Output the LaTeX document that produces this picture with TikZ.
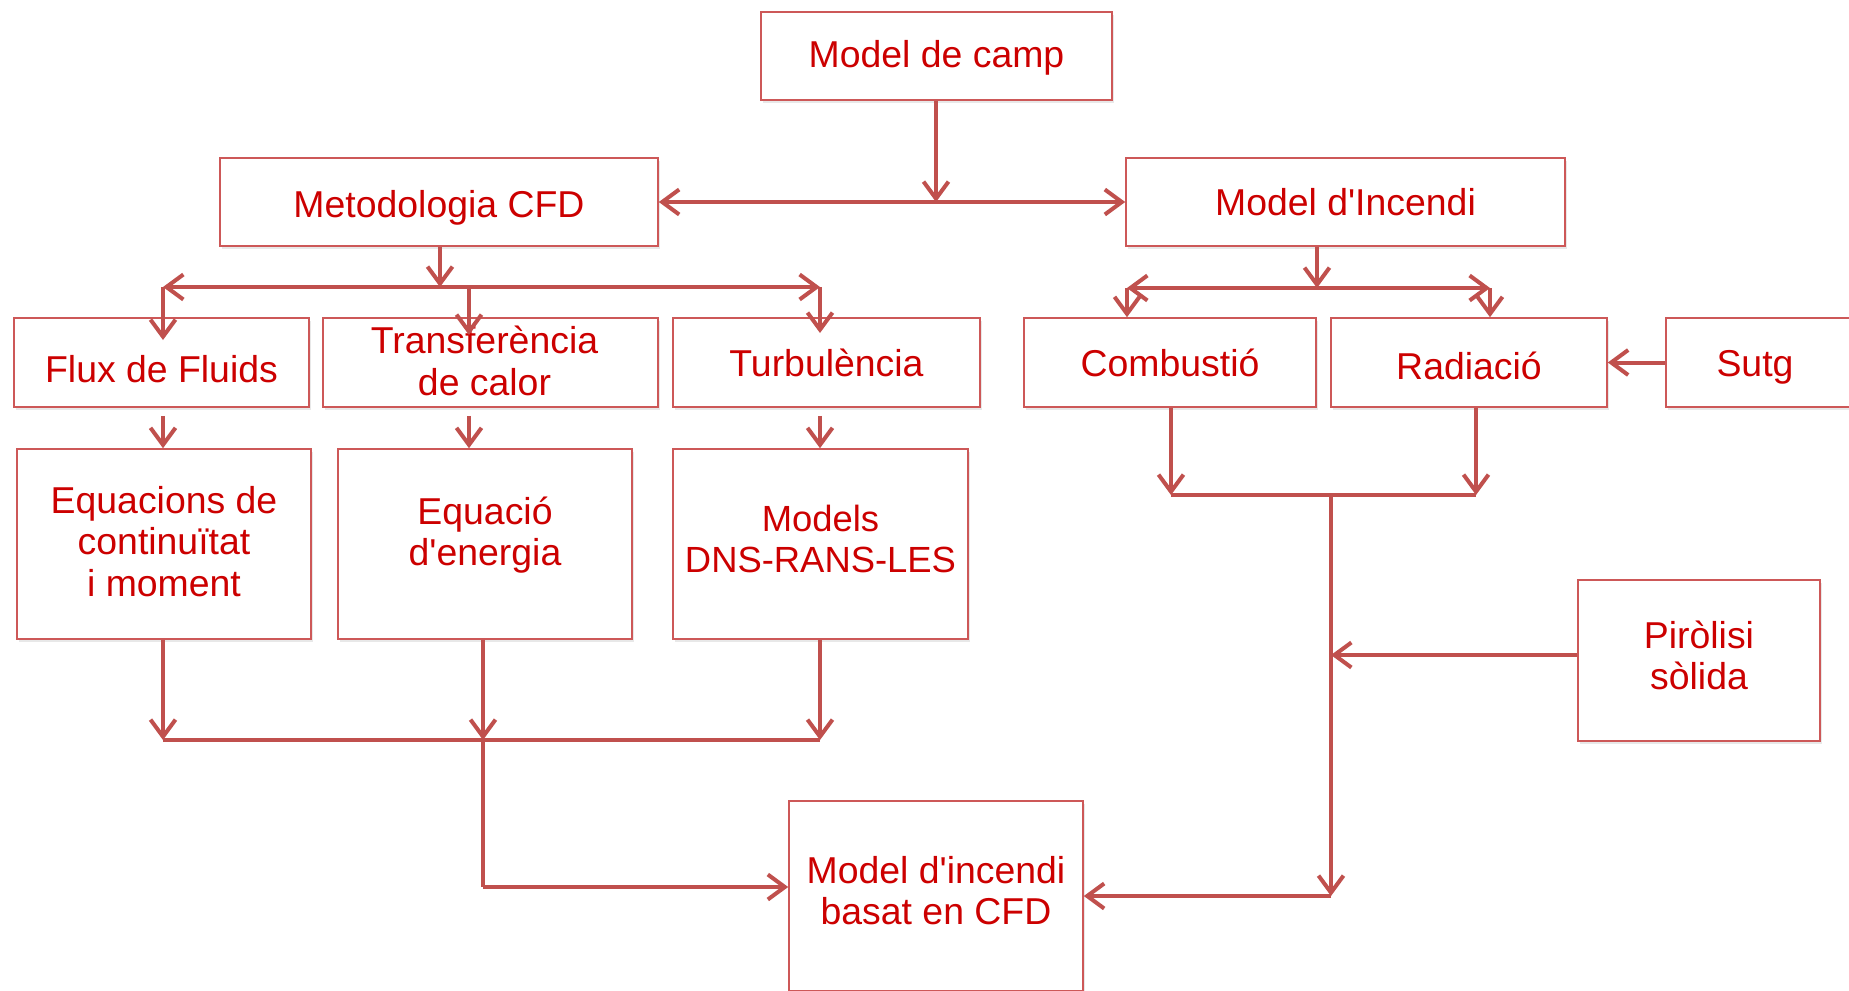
\documentclass[tikz,border=0pt]{standalone}
\usepackage{fontspec}
\setmainfont{Liberation Sans}
\usetikzlibrary{arrows.meta,shadows}
\definecolor{boxc}{RGB}{205,88,88}
\definecolor{arrc}{RGB}{192,80,77}
\definecolor{txt}{RGB}{204,0,0}
\newcommand{\apo}{\textquotesingle}
\tikzset{
  box/.style={draw=boxc, line width=0.8pt, fill=white, text=txt, align=center, inner sep=0pt,
    font=\fontsize{18.7pt}{20.6pt}\selectfont,
    drop shadow={opacity=0.18, shadow xshift=1.2pt, shadow yshift=-1.5pt}},
  lbl/.style={text=txt, align=center, inner sep=0pt, font=\fontsize{18.7pt}{20.6pt}\selectfont},
  conn/.style={draw=arrc, line width=2pt},
  arr/.style={conn, -{Straight Barb[length=8.5pt,width=12.5pt]}},
  darr/.style={conn, {Straight Barb[length=8.5pt,width=12.5pt]}-{Straight Barb[length=8.5pt,width=12.5pt]}}
}
\begin{document}
\begin{tikzpicture}[x=0.5pt,y=-0.5pt]
\useasboundingbox (0,0) rectangle (1849,991);
\clip (0,0) rectangle (1849,991);
\fill[white] (0,0) rectangle (1849,991);
% boxes
\node[box, minimum width=175.5pt, minimum height=44pt] (camp) at (936.5,56) {};
\node[lbl] (campt) at (936.5,58) {Model de camp};
\node[box, minimum width=219pt, minimum height=44pt] (cfd) at (439,202) {};
\node[lbl] (cfdt) at (439,208) {Metodologia CFD};
\node[box, minimum width=219.5pt, minimum height=44pt] (incendi) at (1345.5,202) {Model d\apo Incendi};
\node[box, minimum width=147.5pt, minimum height=44.5pt] (flux) at (161.5,362.5) {};
\node[lbl] (fluxt) at (161.5,369.5) {Flux de Fluids};
\node[box, minimum width=167.5pt, minimum height=44.5pt] (transf) at (490.5,362.5) {};
\node[lbl] (transft) at (484.5,361) {Transferència\\de calor};
\node[box, minimum width=153.5pt, minimum height=44.5pt] (turb) at (826.5,362.5) {Turbulència};
\node[box, minimum width=146pt, minimum height=44.5pt] (comb) at (1170,362.5) {Combustió};
\node[box, minimum width=138pt, minimum height=44.5pt] (rad) at (1469,362.5) {};
\node[lbl] (radt) at (1469,366) {Radiació};
\node[box, minimum width=102pt, minimum height=44.5pt] (sutg) at (1768,362.5) {};
\node[lbl] (sutgt) at (1755,367.5) {Sutg};
\node[box, minimum width=147pt, minimum height=95pt] (equac) at (164,544) {};
\node[lbl] (equact) at (164,541.5) {Equacions de\\continuïtat\\i moment};
\node[box, minimum width=147pt, minimum height=95pt] (energia) at (485,544) {};
\node[lbl] (energiat) at (485,535) {Equació\\d\apo energia};
\node[box, minimum width=147.5pt, minimum height=95pt, font=\fontsize{18.2pt}{20.6pt}\selectfont] (dns) at (820.5,544) {\raisebox{1.5pt}{\begin{tabular}{@{}c@{}}Models\\DNS-RANS-LES\end{tabular}}};
\node[box, minimum width=121pt, minimum height=80.5pt] (piro) at (1699,660.5) {\raisebox{3pt}{\begin{tabular}{@{}c@{}}Piròlisi\\sòlida\end{tabular}}};
\node[box, minimum width=147pt, minimum height=95pt] (basat) at (936,896) {\raisebox{2.5pt}{\begin{tabular}{@{}c@{}}Model d\apo incendi\\basat en CFD\end{tabular}}};
% junction coordinates
\coordinate (j1) at (936,202);
\coordinate (bl) at (163,287);
\coordinate (bc) at (440,287);
\coordinate (bt) at (469,287);
\coordinate (br) at (820,287);
\coordinate (tfl) at (163,340);
\coordinate (ttr) at (469,335);
\coordinate (ttu) at (820,333);
\coordinate (ll) at (163,740);
\coordinate (lm) at (483,740);
\coordinate (lr) at (820,740);
\coordinate (lb) at (483,887);
\coordinate (rb) at (1317,288);
\coordinate (rl) at (1127,288);
\coordinate (rr) at (1490,288);
\coordinate (cb) at (1171,495);
\coordinate (rdb) at (1476,495);
\coordinate (cv) at (1331,495);
\coordinate (pv) at (1331,655);
\coordinate (cvb) at (1331,896);
% top
\draw[arr] (camp.south -| j1) -- (j1);
\draw[darr] (cfd.east) -- (incendi.west);
% left branch
\draw[arr] (cfd.south -| bc) -- (bc);
\draw[darr] (bl) -- (br);
\draw[arr] (bl) -- (tfl);
\draw[arr] (bt) -- (ttr);
\draw[arr] (br) -- (ttu);
\draw[arr, shorten <=4pt] (flux.south -| bl) -- (equac.north -| bl);
\draw[arr, shorten <=4pt] (transf.south -| bt) -- (energia.north -| bt);
\draw[arr, shorten <=4pt] (turb.south -| br) -- (dns.north -| br);
\draw[arr] (equac.south -| ll) -- (ll);
\draw[arr] (energia.south -| lm) -- (lm);
\draw[arr] (dns.south -| lr) -- (lr);
\draw[conn] (ll) -- (lr);
\draw[conn] (lm) -- (lb);
\draw[arr] (lb) -- (lb -| basat.west);
% right branch
\draw[arr] (incendi.south -| rb) -- (rb);
\draw[darr] (rl) -- (rr);
\draw[arr] (rl) -- (rl |- comb.north);
\draw[arr] (rr) -- (rr |- rad.north);
\draw[arr] (sutg.west) -- (rad.east);
\draw[arr] (comb.south -| cb) -- (cb);
\draw[arr] (rad.south -| rdb) -- (rdb);
\draw[conn] (cb) -- (rdb);
\draw[arr] (cv) -- (cvb);
\draw[arr] (piro.west |- pv) -- (pv);
\draw[arr] (cvb) -- (basat.east);
\end{tikzpicture}
\end{document}
